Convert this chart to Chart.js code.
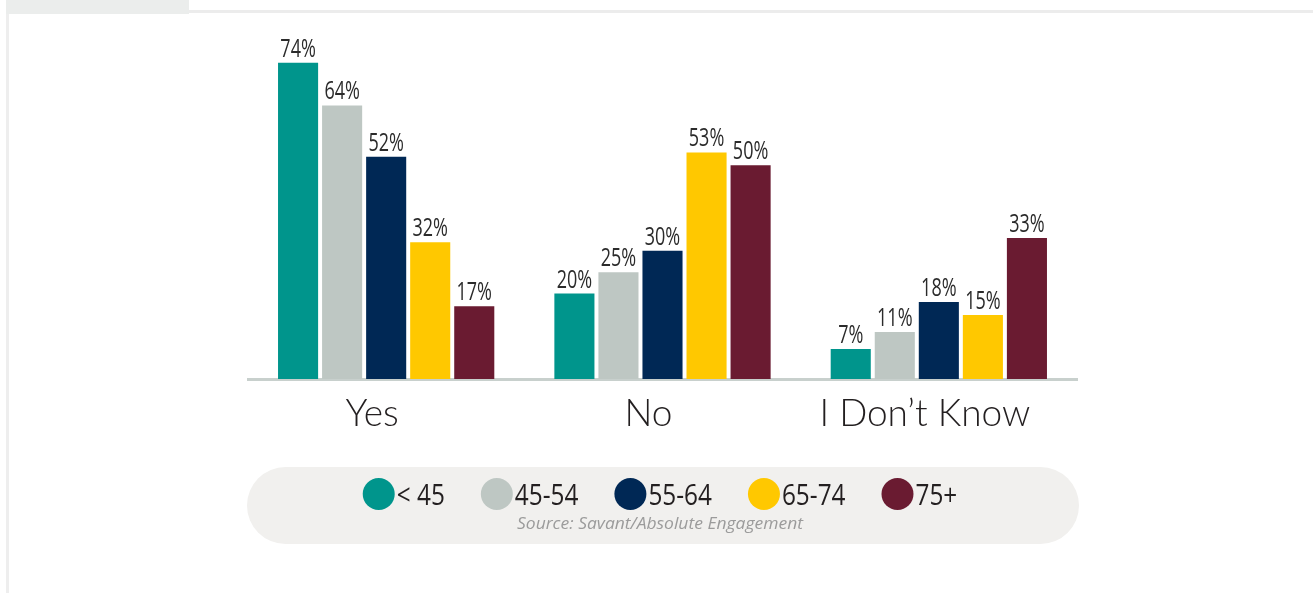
<!DOCTYPE html>
<html>
<head>
<meta charset="utf-8">
<script src="https://cdn.jsdelivr.net/npm/chart.js@4/dist/chart.umd.min.js"></script>
<style>
  html, body { margin: 0; padding: 0; background: #ffffff; }
  body { width: 1313px; height: 593px; position: relative; overflow: hidden; }
  .tab { position: absolute; left: 6px; top: 0; width: 183px; height: 14px; background: #ebedec; }
  .topline { position: absolute; left: 189px; top: 10px; width: 1124px; height: 3px; background: #ececec; }
  .leftline { position: absolute; left: 6px; top: 14px; width: 3px; height: 579px; background: #eeeeee; }
  #wrap { position: absolute; left: 0; top: 0; width: 1313px; height: 593px; }
</style>
</head>
<body>
<div class="tab"></div>
<div class="topline"></div>
<div class="leftline"></div>
<div id="wrap"><canvas id="chart" width="1313" height="593"></canvas></div>
<script>
// Survey answers by age group
const categories = ["Yes", "No", "I Don\u2019t Know"];
const ageGroups = ["< 45", "45-54", "55-64", "65-74", "75+"];
const under45 = [74, 20, 7];
const age45to54 = [64, 25, 11];
const age55to64 = [52, 30, 18];
const age65to74 = [32, 53, 15];
const age75plus = [17, 50, 33];
const groupColors = ["#00958c", "#bec7c3", "#002855", "#ffc800", "#6a1b31"];
const sourceNote = "Source: Savant/Absolute Engagement";

const seriesValues = [under45, age45to54, age55to64, age65to74, age75plus];

// Draw text squeezed horizontally to get a condensed face
function condensedText(ctx, text, x, y, font, color, squeeze, align) {
  ctx.save();
  ctx.font = font;
  ctx.fillStyle = color;
  ctx.textBaseline = "alphabetic";
  const w = ctx.measureText(text).width * squeeze;
  let left = x;
  if (align === "center") left = x - w / 2;
  ctx.translate(left, y);
  ctx.scale(squeeze, 1);
  ctx.textAlign = "left";
  ctx.fillText(text, 0, 0);
  ctx.restore();
  return w;
}

// Percent labels above each bar
const valueLabels = {
  id: "valueLabels",
  afterDatasetsDraw(chart) {
    const ctx = chart.ctx;
    chart.data.datasets.forEach((ds, di) => {
      chart.getDatasetMeta(di).data.forEach((bar, i) => {
        condensedText(ctx, ds.data[i] + "%", bar.x, bar.y - 6,
          "400 25px 'Open Sans'", "#2b2b2b", 0.72, "center");
      });
    });
  }
};

// Rounded legend panel with source line
const pillLegend = {
  id: "pillLegend",
  afterDraw(chart) {
    const ctx = chart.ctx;
    const x0 = 247, x1 = 1079, y0 = 467, y1 = 544;
    const r = (y1 - y0) / 2;
    ctx.save();
    ctx.fillStyle = "#f1f0ee";
    ctx.beginPath();
    ctx.moveTo(x0 + r, y0);
    ctx.lineTo(x1 - r, y0);
    ctx.arc(x1 - r, y0 + r, r, -Math.PI / 2, Math.PI / 2);
    ctx.lineTo(x0 + r, y1);
    ctx.arc(x0 + r, y0 + r, r, Math.PI / 2, Math.PI * 1.5);
    ctx.closePath();
    ctx.fill();

    const font = "400 29px 'Open Sans'";
    const squeeze = 0.84;
    const dia = 32, gapText = 2, gapItem = 36;
    ctx.font = font;
    const items = chart.data.datasets.map(ds => ({
      label: ds.label, color: ds.backgroundColor,
      w: ctx.measureText(ds.label).width * squeeze
    }));
    let total = 0;
    items.forEach((it, i) => { total += dia + gapText + it.w + (i < items.length - 1 ? gapItem : 0); });
    let x = 660 - total / 2;
    const cy = 494;
    items.forEach(it => {
      ctx.fillStyle = it.color;
      ctx.beginPath();
      ctx.arc(x + dia / 2, cy, dia / 2, 0, Math.PI * 2);
      ctx.fill();
      x += dia + gapText;
      condensedText(ctx, it.label, x, cy + 11, font, "#231f20", squeeze, "left");
      x += it.w + gapItem;
    });

    ctx.font = "italic 400 16px 'Open Sans'";
    ctx.fillStyle = "#9b9b9b";
    ctx.textAlign = "center";
    ctx.textBaseline = "alphabetic";
    const sw = ctx.measureText(sourceNote).width;
    ctx.save();
    ctx.translate(660, 529);
    ctx.scale(286 / sw, 1);
    ctx.fillText(sourceNote, 0, 0);
    ctx.restore();
    ctx.restore();
  }
};

new Chart(document.getElementById("chart"), {
  type: "bar",
  data: {
    labels: categories,
    datasets: ageGroups.map((g, i) => ({
      label: g,
      data: seriesValues[i],
      backgroundColor: groupColors[i],
      borderWidth: 0,
      categoryPercentage: 0.797,
      barPercentage: 0.91
    }))
  },
  options: {
    responsive: false,
    animation: false,
    devicePixelRatio: 1,
    layout: { padding: { left: 248, right: 236, top: 37, bottom: 144 } },
    plugins: { legend: { display: false }, tooltip: { enabled: false } },
    scales: {
      x: {
        grid: { display: false, drawTicks: false },
        border: { display: true, color: "#c8d0cd", width: 3 },
        ticks: {
          color: "#231f20",
          font: { family: "Lato", size: 37, weight: 300 },
          padding: 13,
          labelOffset: -14,
          maxRotation: 0
        },
        afterFit(scale) { scale.height = 70; }
      },
      y: {
        display: false,
        min: 0,
        max: 80
      }
    }
  },
  plugins: [valueLabels, pillLegend]
});
</script>
</body>
</html>
